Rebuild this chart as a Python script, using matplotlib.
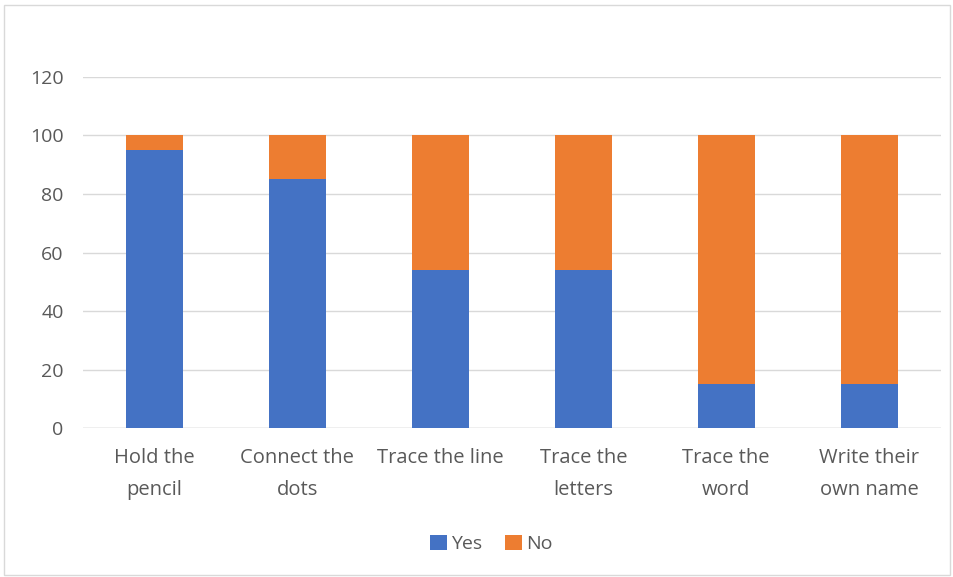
import matplotlib.pyplot as plt
import numpy as np
from matplotlib.patches import Rectangle

categories = ["Hold the\npencil", "Connect the\ndots", "Trace the line",
              "Trace the\nletters", "Trace the\nword", "Write their\nown name"]
yes = [95, 85, 54, 54, 15, 15]
no = [5, 15, 46, 46, 85, 85]

plt.rcParams['font.family'] = ['Open Sans', 'DejaVu Sans']

fig = plt.figure(figsize=(9.54, 5.77), dpi=100)
ax = fig.add_axes([0.087, 0.258, 0.899, 0.6086])

x = np.arange(len(categories))
ax.bar(x, yes, width=0.4, color="#4472c4", label="Yes", zorder=3)
ax.bar(x, no, width=0.4, bottom=yes, color="#ed7d31", label="No", zorder=3)

ax.set_xlim(-0.5, len(categories) - 0.5)
ax.set_ylim(0, 120)
ax.set_yticks(range(0, 121, 20))
ax.set_xticks(x)
ax.set_xticklabels(categories, fontsize=14.5, color="#595959", linespacing=1.8)
ax.tick_params(axis='y', labelsize=14, labelcolor="#595959", length=0, pad=14)
ax.tick_params(axis='x', length=0, pad=14)
ax.grid(axis='y', color="#d9d9d9", linewidth=1, zorder=0)
for s in ax.spines.values():
    s.set_visible(False)
ax.axhline(0, color="#d0d0d0", linewidth=1, zorder=2)

ax.legend(loc='center', bbox_to_anchor=(0.476, -0.33), ncol=2, frameon=False,
          fontsize=14, labelcolor="#595959", handlelength=0.85, handleheight=0.85,
          handletextpad=0.2, columnspacing=1.2)

fig.patches.append(Rectangle((4 / 954, 2 / 577), 946 / 954, 570 / 577,
                             transform=fig.transFigure, fill=False,
                             edgecolor="#d9d9d9", linewidth=1))

fig.savefig("out.png", dpi=100)
